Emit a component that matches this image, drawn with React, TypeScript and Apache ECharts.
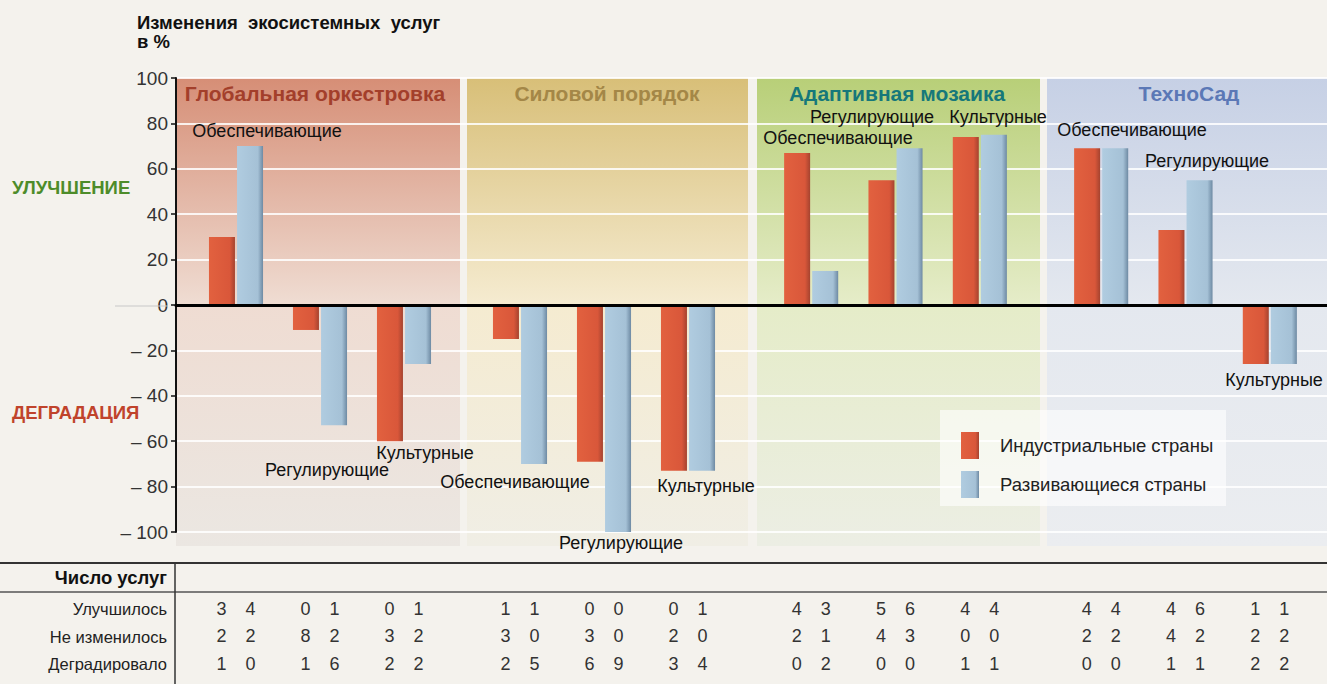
import React, { useEffect, useRef } from "react";
import * as echarts from "echarts";

const panels = ["Глобальная оркестровка", "Силовой порядок", "Адаптивная мозаика", "ТехноСад"];
const panelColors = ["#a33f2b", "#a48747", "#16787a", "#5b78b6"];
const serviceTypes = ["Обеспечивающие", "Регулирующие", "Культурные"];
const seriesNames = ["Индустриальные страны", "Развивающиеся страны"];
const industrial = [30, -11, -60, -15, -69, -73, 67, 55, 74, 69, 33, -26];
const developing = [70, -53, -26, -70, -100, -73, 15, 69, 75, 69, 55, -26];
const rowLabels = ["Улучшилось", "Не изменилось", "Деградировало"];
const improvedInd = [3, 0, 0, 1, 0, 0, 4, 5, 4, 4, 4, 1];
const improvedDev = [4, 1, 1, 1, 0, 1, 3, 6, 4, 4, 6, 1];
const unchangedInd = [2, 8, 3, 3, 3, 2, 2, 4, 0, 2, 4, 2];
const unchangedDev = [2, 2, 2, 0, 0, 0, 1, 3, 0, 2, 2, 2];
const degradedInd = [1, 1, 2, 2, 6, 3, 0, 0, 1, 0, 1, 2];
const degradedDev = [0, 6, 2, 5, 9, 4, 2, 0, 1, 0, 1, 2];

const FONT = '"Liberation Sans", Arial, sans-serif';

const panelRects = [
  { x: 176, w: 284, top: "#d68e76", mid: "#efdcd2", bot: "#ebe7e2" },
  { x: 467, w: 281, top: "#d8bf78", mid: "#f5ebd0", bot: "#f0eee5" },
  { x: 757, w: 283, top: "#b8cf78", mid: "#e5ecc8", bot: "#eceee4" },
  { x: 1047, w: 280, top: "#c6d0e5", mid: "#e4e8ef", bot: "#ebedf0" },
];
const innerGrids = [
  { left: 194, width: 252 },
  { left: 478, width: 252 },
  { left: 769, width: 253 },
  { left: 1059, width: 253 },
];

const annotations = [
  { t: "Обеспечивающие", x: 267, y: 131 },
  { t: "Регулирующие", x: 327, y: 470 },
  { t: "Культурные", x: 425, y: 453 },
  { t: "Обеспечивающие", x: 515, y: 482 },
  { t: "Регулирующие", x: 621, y: 543 },
  { t: "Культурные", x: 706, y: 486 },
  { t: "Обеспечивающие", x: 838, y: 138 },
  { t: "Регулирующие", x: 872, y: 117 },
  { t: "Культурные", x: 998, y: 117 },
  { t: "Обеспечивающие", x: 1132, y: 130 },
  { t: "Регулирующие", x: 1207, y: 161 },
  { t: "Культурные", x: 1274, y: 380 },
];
const headerPos = [315, 607, 897, 1189];

const redFill = new echarts.graphic.LinearGradient(0, 0, 1, 0, [
  { offset: 0, color: "#e2613f" },
  { offset: 0.8, color: "#d9573a" },
  { offset: 1, color: "#a5432f" },
]);
const blueFill = new echarts.graphic.LinearGradient(0, 0, 1, 0, [
  { offset: 0, color: "#b0cce0" },
  { offset: 0.8, color: "#a5c1d6" },
  { offset: 1, color: "#6e8aa3" },
]);

export default function App() {
  const ref = useRef<HTMLDivElement>(null);
  useEffect(() => {
    if (!ref.current) return;
    const chart = echarts.init(ref.current, null, { renderer: "svg" });

    const grids: any[] = [{ left: 176, right: 0, top: 78, bottom: 152 }];
    innerGrids.forEach((g) => grids.push({ left: g.left, width: g.width, top: 78, bottom: 152 }));

    const xAxes: any[] = [
      {
        type: "value", gridIndex: 0, min: 0, max: 1, z: 10,
        axisLine: { show: true, onZero: true, lineStyle: { color: "#000", width: 3 } },
        axisTick: { show: false }, axisLabel: { show: false }, splitLine: { show: false },
      },
    ];
    const yAxes: any[] = [
      {
        type: "value", gridIndex: 0, min: -100, max: 100, interval: 20,
        axisLine: { show: true, lineStyle: { color: "#111", width: 2 } },
        axisTick: { show: true, length: 5, lineStyle: { color: "#111", width: 1.5 } },
        axisLabel: {
          color: "#333", fontSize: 19, fontFamily: FONT, margin: 8,
          formatter: (v: number) => (v < 0 ? "– " + Math.abs(v) : String(v)),
        },
        splitLine: { show: true, lineStyle: { color: "rgba(255,255,255,0.85)", width: 2 } },
      },
    ];
    const series: any[] = [];
    panels.forEach((_, p) => {
      xAxes.push({
        type: "category", gridIndex: p + 1, data: serviceTypes,
        axisLine: { show: false, onZero: false }, axisTick: { show: false },
        axisLabel: {
          interval: 0, margin: 63,
          formatter: (_v: string, i: number) => {
            const k = p * 3 + i;
            return [
              `{n|${improvedInd[k]}}{n|${improvedDev[k]}}`,
              `{n|${unchangedInd[k]}}{n|${unchangedDev[k]}}`,
              `{n|${degradedInd[k]}}{n|${degradedDev[k]}}`,
            ].join("\n");
          },
          rich: { n: { width: 29, align: "center", fontSize: 18, fontFamily: FONT, color: "#333", lineHeight: 27.5 } },
        },
      });
      yAxes.push({ type: "value", gridIndex: p + 1, min: -100, max: 100, show: false });
      series.push({
        type: "bar", name: seriesNames[0], xAxisIndex: p + 1, yAxisIndex: p + 1,
        data: industrial.slice(p * 3, p * 3 + 3), barWidth: 26, barGap: "8%",
        itemStyle: { color: redFill },
      });
      series.push({
        type: "bar", name: seriesNames[1], xAxisIndex: p + 1, yAxisIndex: p + 1,
        data: developing.slice(p * 3, p * 3 + 3), barWidth: 26, barGap: "8%",
        itemStyle: { color: blueFill },
      });
    });

    const graphics: any[] = [];
    panelRects.forEach((r) => {
      graphics.push({
        type: "rect", z: -10, silent: true,
        shape: { x: r.x, y: 78, width: r.w, height: 468 },
        style: {
          fill: new echarts.graphic.LinearGradient(0, 0, 0, 1, [
            { offset: 0, color: r.top },
            { offset: 0.48, color: r.mid },
            { offset: 1, color: r.bot },
          ]),
        },
      });
    });
    panels.forEach((name, p) => {
      graphics.push({
        type: "text", z: 50, x: headerPos[p], y: 93,
        style: { text: name, fill: panelColors[p], fontSize: 21, fontWeight: "bold", fontFamily: FONT, align: "center", verticalAlign: "middle" },
      });
    });
    annotations.forEach((a) => {
      graphics.push({
        type: "text", z: 50, x: a.x, y: a.y,
        style: { text: a.t, fill: "#111", fontSize: 18, fontFamily: FONT, align: "center", verticalAlign: "middle" },
      });
    });
    graphics.push(
      { type: "text", z: 50, x: 137, y: 22, style: { text: "Изменения  экосистемных  услуг", fill: "#111", fontSize: 18.5, fontWeight: "bold", fontFamily: FONT, verticalAlign: "middle" } },
      { type: "text", z: 50, x: 137, y: 41, style: { text: "в %", fill: "#111", fontSize: 18.5, fontWeight: "bold", fontFamily: FONT, verticalAlign: "middle" } },
      { type: "text", z: 50, x: 12, y: 187, style: { text: "УЛУЧШЕНИЕ", fill: "#4d8c2a", fontSize: 18.5, fontWeight: "bold", fontFamily: FONT, verticalAlign: "middle" } },
      { type: "text", z: 50, x: 12, y: 412, style: { text: "ДЕГРАДАЦИЯ", fill: "#c0432b", fontSize: 18.5, fontWeight: "bold", fontFamily: FONT, verticalAlign: "middle" } },
      { type: "line", z: 1, shape: { x1: 115, y1: 306, x2: 168, y2: 306 }, style: { stroke: "#c8c8c8", lineWidth: 1 } },
      { type: "rect", z: 20, shape: { x: 940, y: 410, width: 286, height: 96 }, style: { fill: "rgba(255,255,255,0.6)" } },
      { type: "line", z: 1, shape: { x1: 0, y1: 563, x2: 1327, y2: 563 }, style: { stroke: "#333", lineWidth: 2 } },
      { type: "line", z: 1, shape: { x1: 0, y1: 592, x2: 1327, y2: 592 }, style: { stroke: "#555", lineWidth: 1.5 } },
      { type: "line", z: 1, shape: { x1: 175, y1: 563, x2: 175, y2: 684 }, style: { stroke: "#333", lineWidth: 1.5 } },
      { type: "text", z: 50, x: 167, y: 577, style: { text: "Число услуг", fill: "#111", fontSize: 18.5, fontWeight: "bold", fontFamily: FONT, align: "right", verticalAlign: "middle" } },
    );
    rowLabels.forEach((t, i) => {
      graphics.push({
        type: "text", z: 50, x: 167, y: 609 + i * 27.5,
        style: { text: t, fill: "#222", fontSize: 16.5, fontFamily: FONT, align: "right", verticalAlign: "middle" },
      });
    });

    chart.setOption({
      animation: false,
      backgroundColor: "#f4f2ed",
      grid: grids,
      xAxis: xAxes,
      yAxis: yAxes,
      series,
      legend: {
        data: seriesNames,
        orient: "vertical",
        left: 956, top: 427,
        itemWidth: 18, itemHeight: 27, itemGap: 12,
        icon: "rect",
        z: 30,
        textStyle: { fontSize: 18.5, fontFamily: FONT, color: "#222", padding: [0, 0, 0, 16] },
      },
      graphic: graphics,
    });
    return () => chart.dispose();
  }, []);
  return <div ref={ref} style={{ position: "fixed", left: 0, top: 0, width: 1327, height: 684 }} />;
}
